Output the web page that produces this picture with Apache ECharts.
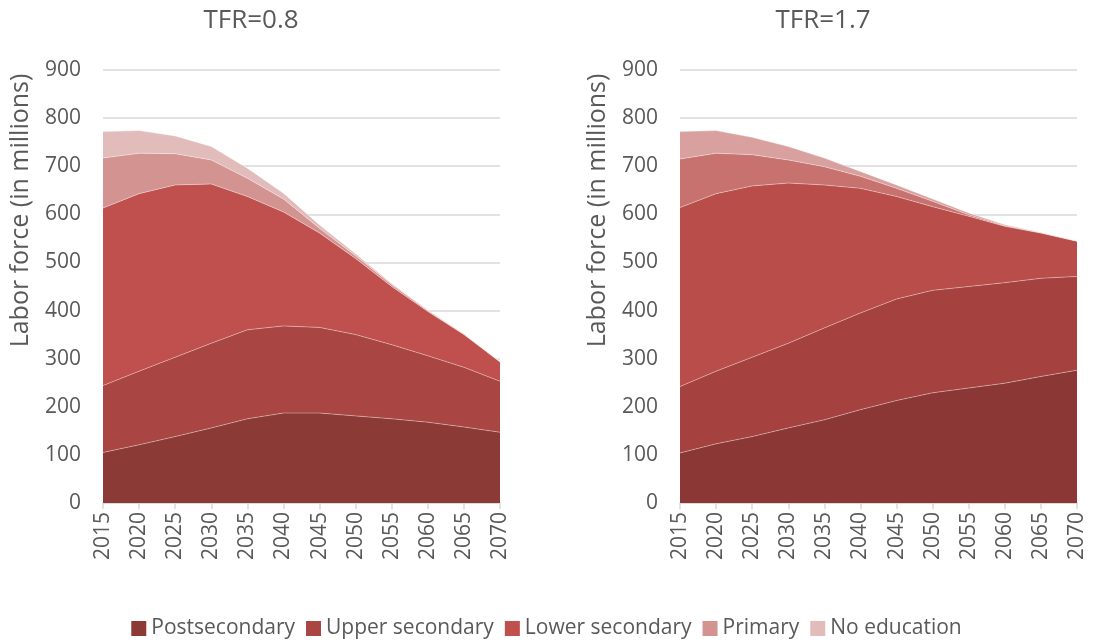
<!DOCTYPE html>
<html>
<head>
<meta charset="utf-8">
<script src="https://cdn.jsdelivr.net/npm/echarts@6/dist/echarts.min.js"></script>
<style>
  html, body { margin: 0; padding: 0; background: #fff; }
  #main { width: 1093px; height: 644px; }
</style>
</head>
<body>
<div id="main"></div>
<script>
// years on the x axis
let years = ['2015', '2020', '2025', '2030', '2035', '2040', '2045', '2050', '2055', '2060', '2065', '2070'];
let names = ['Postsecondary', 'Upper secondary', 'Lower secondary', 'Primary', 'No education'];

// TFR=0.8 (millions)
let low_post = [105, 121, 138, 156, 175, 187, 187, 181, 175, 168, 158, 147];
let low_upper = [139, 153, 165, 176, 185, 181, 178, 169, 154, 138, 124, 106];
let low_lower = [369, 369, 358, 331, 277, 237, 196, 158, 121, 92, 68, 40];
let low_primary = [104, 84, 65, 50, 38, 27, 10, 6, 4, 2, 1, 1];
let low_none = [55, 47, 37, 28, 21, 12, 7, 4, 2, 1, 1, 0.5];

// TFR=1.7 (millions)
let high_post = [104, 123, 138, 156, 173, 194, 213, 229, 239, 249, 263, 276];
let high_upper = [138, 151, 165, 176, 191, 201, 211, 213, 211, 209, 204, 195];
let high_lower = [372, 369, 356, 333, 297, 259, 213, 174, 146, 117, 94, 73];
let high_primary = [101, 84, 65, 48, 38, 25, 17, 11, 3, 1.5, 0.5, 0.3];
let high_none = [57, 47, 36, 28, 18, 10, 7, 5, 4, 2, 1, 0.5];

let low_colors = ['#8c3a36', '#a94543', '#c0504d', '#d39391', '#e2bcbb'];
let high_colors = ['#8b3735', '#a54240', '#b84d4a', '#c87270', '#d8a1a0'];

let textColor = '#595959';
let font = '"Open Sans", sans-serif';

function makeSeries(idx, data, colors, stack) {
    return data.map(function (d, i) {
        return {
            name: names[i],
            type: 'line',
            stack: stack,
            xAxisIndex: idx,
            yAxisIndex: idx,
            data: d,
            symbol: 'none',
            color: colors[i],
            lineStyle: { width: 0.8, color: 'rgba(255,255,255,0.45)' },
            areaStyle: { color: colors[i], opacity: 1 },
            emphasis: { disabled: true }
        };
    });
}

function xAxis(idx) {
    return {
        type: 'category',
        gridIndex: idx,
        boundaryGap: false,
        data: years,
        axisLine: { lineStyle: { color: '#d9d9d9', width: 1.5 } },
        axisTick: { show: true, length: 6, lineStyle: { color: '#d9d9d9', width: 1.5 } },
        axisLabel: { rotate: 90, color: textColor, fontSize: 21, fontFamily: font, margin: 9, interval: 0 },
        splitLine: { show: false }
    };
}

function yAxis(idx) {
    return {
        type: 'value',
        gridIndex: idx,
        min: 0,
        max: 900,
        interval: 100,
        name: 'Labor force (in millions)',
        nameLocation: 'middle',
        nameGap: 70,
        nameTextStyle: { color: textColor, fontSize: 25, fontFamily: font, padding: [0, 0, 0, 152] },
        axisLine: { show: false },
        axisTick: { show: false },
        axisLabel: { color: textColor, fontSize: 21, fontFamily: font, margin: 22 },
        splitLine: { lineStyle: { color: '#d9d9d9', width: 1.5 } }
    };
}

let myChart = echarts.init(document.getElementById('main'));
let option = {
    backgroundColor: '#fff',
    animation: false,
    title: [
        { text: 'TFR=0.8', left: 246, top: 3, textAlign: 'center',
          textStyle: { color: textColor, fontSize: 26, fontWeight: 'normal', fontFamily: font } },
        { text: 'TFR=1.7', left: 818, top: 3, textAlign: 'center',
          textStyle: { color: textColor, fontSize: 26, fontWeight: 'normal', fontFamily: font } }
    ],
    legend: {
        data: names,
        top: 613,
        left: 'center',
        icon: 'rect',
        itemWidth: 15,
        itemHeight: 15,
        itemGap: 11,
        textStyle: { color: textColor, fontSize: 21, fontFamily: font, padding: [0, 0, 0, 0] }
    },
    grid: [
        { left: 103, top: 70, width: 397, height: 433 },
        { left: 680, top: 70, width: 397, height: 433 }
    ],
    xAxis: [xAxis(0), xAxis(1)],
    yAxis: [yAxis(0), yAxis(1)],
    series: makeSeries(0, [low_post, low_upper, low_lower, low_primary, low_none], low_colors, 'low')
        .concat(makeSeries(1, [high_post, high_upper, high_lower, high_primary, high_none], high_colors, 'high'))
};
myChart.setOption(option);
</script>
</body>
</html>
